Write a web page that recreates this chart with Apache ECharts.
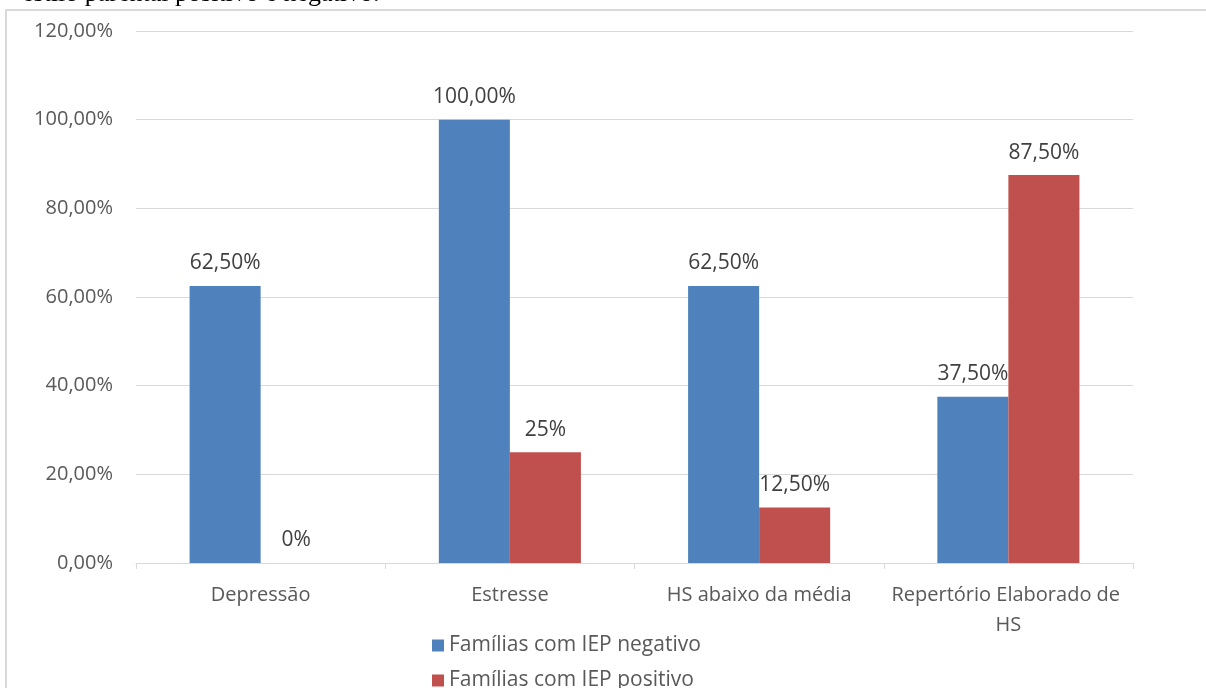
<!DOCTYPE html>
<html lang="pt">
  <head>
    <meta charset="UTF-8" />
    <script src="https://cdn.jsdelivr.net/npm/echarts@6/dist/echarts.min.js"></script>
    <style>
      html, body { margin: 0; padding: 0; background: #fff; }
      #main { width: 1206px; height: 688px; }
    </style>
    <title>IEP</title>
  </head>
  <body>
    <div id="main"></div>
    <script>
      const categories = ["Depressão", "Estresse", "HS abaixo da média", "Repertório Elaborado de HS"];
      const seriesNames = ["Famílias com IEP negativo", "Famílias com IEP positivo"];
      const negativo = [62.5, 100, 62.5, 37.5];
      const positivo = [0, 25, 12.5, 87.5];
      const yTicks = { min: 0, max: 120, interval: 20 };

      const font = "'Open Sans', 'Noto Sans', sans-serif";
      const pct = (v, d) => v.toFixed(d).replace(".", ",") + "%";

      const chart = echarts.init(document.getElementById("main"));

      // one legend per row, stacked like the original
      const legendRow = (name, top) => ({
        data: [name],
        left: 427,
        top: top,
        itemWidth: 12,
        itemHeight: 12,
        icon: "rect",
        textStyle: { fontSize: 21, color: "#595959", fontFamily: font }
      });

      chart.setOption({
        animation: false,
        color: ["#4F81BD", "#C0504D"],
        textStyle: { fontFamily: font },
        grid: { left: 136, right: 73, top: 31, bottom: 125 },
        graphic: [
          {
            type: "rect",
            shape: { x: 6, y: 10, width: 1240, height: 700 },
            style: { fill: "none", stroke: "#d9d9d9", lineWidth: 2 },
            silent: true
          },
          {
            type: "text",
            x: 22,
            y: 7,
            style: {
              text: "estilo parental positivo e negativo.",
              font: "26px 'Liberation Serif', serif",
              fill: "#000",
              verticalAlign: "bottom"
            }
          }
        ],
        legend: [legendRow(seriesNames[0], 630), legendRow(seriesNames[1], 665)],
        xAxis: {
          type: "category",
          data: categories,
          axisLine: { lineStyle: { color: "#d9d9d9" } },
          axisTick: { show: true, length: 6, lineStyle: { color: "#d9d9d9" } },
          axisLabel: {
            interval: 0,
            color: "#595959",
            fontSize: 20,
            margin: 17,
            width: 245,
            overflow: "break",
            lineHeight: 30
          }
        },
        yAxis: {
          type: "value",
          min: yTicks.min,
          max: yTicks.max,
          interval: yTicks.interval,
          axisLine: { show: false },
          axisTick: { show: false },
          splitLine: { lineStyle: { color: "#d9d9d9" } },
          axisLabel: {
            color: "#595959",
            fontSize: 20,
            margin: 23,
            formatter: (v) => pct(v, 2)
          }
        },
        series: [
          {
            name: seriesNames[0],
            type: "bar",
            data: negativo,
            barGap: "0%",
            barCategoryGap: "43%",
            label: {
              show: true,
              position: "top",
              distance: 12,
              color: "#404040",
              fontSize: 21,
              formatter: (p) => pct(p.value, 2)
            }
          },
          {
            name: seriesNames[1],
            type: "bar",
            data: positivo,
            label: {
              show: true,
              position: "top",
              distance: 12,
              color: "#404040",
              fontSize: 21,
              formatter: (p) => pct(p.value, Number.isInteger(p.value) ? 0 : 2)
            }
          }
        ]
      });
    </script>
  </body>
</html>
